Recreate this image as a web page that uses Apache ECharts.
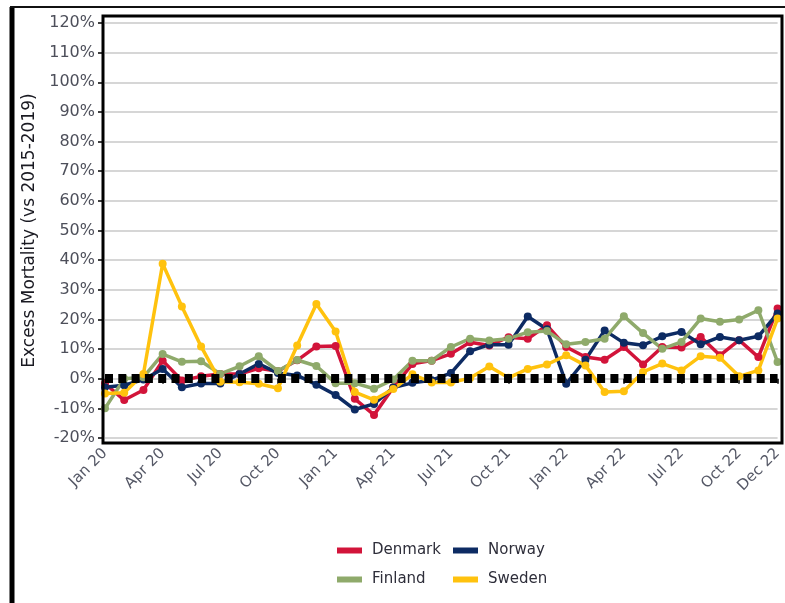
<!DOCTYPE html>
<html>
<head>
<meta charset="utf-8">
<title>Excess Mortality</title>
<script src="https://cdn.jsdelivr.net/npm/echarts@6/dist/echarts.min.js"></script>
<style>
  html, body { margin: 0; padding: 0; background: #fff; }
  #chart { width: 785px; height: 603px; }
</style>
</head>
<body>
<div id="chart"></div>
<script>
const months = [
  'Jan 20', 'Feb 20', 'Mar 20', 'Apr 20', 'May 20', 'Jun 20', 'Jul 20', 'Aug 20', 'Sep 20', 'Oct 20', 'Nov 20', 'Dec 20',
  'Jan 21', 'Feb 21', 'Mar 21', 'Apr 21', 'May 21', 'Jun 21', 'Jul 21', 'Aug 21', 'Sep 21', 'Oct 21', 'Nov 21', 'Dec 21',
  'Jan 22', 'Feb 22', 'Mar 22', 'Apr 22', 'May 22', 'Jun 22', 'Jul 22', 'Aug 22', 'Sep 22', 'Oct 22', 'Nov 22', 'Dec 22'
]

// excess mortality in %, one value per month
const denmark = [-1.6, -7.2, -3.8, 6.1, -0.6, 0.8, 1.6, 1.6, 3.5, 2.5, 6.2, 10.9,
  11.0, -6.8, -12.2, -3.0, 5.0, 6.1, 8.4, 12.3, 11.2, 14.0, 13.5, 18.0,
  10.7, 7.3, 6.4, 10.7, 4.8, 10.7, 10.5, 14.1, 7.9, 13.0, 7.3, 23.7]
const norway = [-2.9, -2.2, -0.3, 3.3, -2.9, -1.6, -1.6, 1.6, 5.0, 1.9, 1.1, -2.0,
  -5.5, -10.4, -8.5, -3.0, -1.4, -0.5, 1.9, 9.3, 11.5, 11.5, 21.0, 16.7,
  -1.7, 6.4, 16.3, 12.1, 11.3, 14.3, 15.8, 11.6, 14.1, 13.0, 14.3, 22.0]
const finland = [-10.0, 0.0, 0.5, 8.3, 5.7, 5.9, 1.6, 4.2, 7.6, 2.6, 6.3, 4.3,
  -1.5, -1.5, -3.4, -0.3, 6.1, 6.1, 10.7, 13.5, 12.9, 13.5, 15.7, 16.1,
  11.6, 12.4, 13.5, 21.1, 15.4, 10.1, 12.4, 20.3, 19.2, 20.0, 23.1, 5.6]
const sweden = [-5.0, -4.7, 1.6, 38.8, 24.4, 10.9, -1.0, -1.2, -1.7, -3.2, 11.2, 25.2,
  15.9, -4.5, -7.1, -3.5, 1.5, -1.3, -1.3, 0.2, 4.1, 0.3, 3.3, 4.8,
  7.9, 4.5, -4.5, -4.2, 2.3, 5.1, 2.8, 7.6, 7.1, 0.8, 2.8, 20.3]

const yMin = -20
const yMax = 120
const yStep = 10

const seriesList = [
  { name: 'Denmark', data: denmark, color: '#D2143A' },
  { name: 'Norway', data: norway, color: '#0D2B63' },
  { name: 'Finland', data: finland, color: '#8FAA6B' },
  { name: 'Sweden', data: sweden, color: '#FFC20E' }
]

// every third month plus the last one gets a label
const showLabel = (i) => i % 3 === 0 || i === months.length - 1

const chart = echarts.init(document.getElementById('chart'))

const series = seriesList.map(item => ({
  name: item.name,
  type: 'line',
  data: item.data,
  symbol: 'circle',
  symbolSize: 8,
  lineStyle: { width: 3.5, color: item.color },
  itemStyle: { color: item.color },
  z: 3
}))

// black dotted zero line
series[0].markLine = {
  silent: true,
  symbol: 'none',
  label: { show: false },
  lineStyle: { color: '#000', width: 9, type: [8, 5.3] },
  data: [{ yAxis: 0 }]
}

const legendBase = {
  orient: 'vertical',
  top: 538,
  itemGap: 14,
  icon: 'rect',
  itemWidth: 25,
  itemHeight: 6,
  textStyle: { fontFamily: 'DejaVu Sans', fontSize: 15, color: '#2e2e3a', padding: [0, 0, 0, 5] }
}

chart.setOption({
  animation: false,
  backgroundColor: '#fff',
  textStyle: { fontFamily: 'DejaVu Sans' },
  grid: { left: 105, right: 7, top: 23, height: 415 },
  legend: [
    Object.assign({}, legendBase, { left: 332, data: ['Denmark', 'Finland'] }),
    Object.assign({}, legendBase, { left: 448, data: ['Norway', 'Sweden'] })
  ],
  xAxis: {
    type: 'category',
    data: months,
    boundaryGap: false,
    offset: 5,
    axisLine: { show: false },
    axisTick: {
      show: true,
      interval: showLabel,
      length: 5,
      lineStyle: { color: '#000', width: 1.5 }
    },
    axisLabel: {
      interval: showLabel,
      rotate: 45,
      margin: 8,
      fontSize: 15,
      color: '#555866'
    },
    splitLine: { show: false }
  },
  yAxis: {
    type: 'value',
    min: yMin,
    max: yMax,
    interval: yStep,
    offset: 2,
    name: 'Excess Mortality (vs 2015-2019)',
    nameLocation: 'middle',
    nameGap: 62,
    nameTextStyle: { fontSize: 17, color: '#1a1a22' },
    axisLine: { show: false },
    axisTick: { show: true, length: 5, lineStyle: { color: '#000', width: 1.5 } },
    axisLabel: {
      formatter: '{value}%',
      margin: 8,
      fontSize: 16,
      color: '#4d4f5a'
    },
    splitLine: { lineStyle: { color: '#c8c8c8', width: 1.5 } }
  },
  graphic: [
    // plot frame
    {
      type: 'rect',
      shape: { x: 103, y: 16, width: 679, height: 427 },
      style: { fill: null, stroke: '#000', lineWidth: 3 },
      z: 10,
      silent: true
    },
    // outer frame
    {
      type: 'line',
      shape: { x1: 12, y1: 7, x2: 12, y2: 603 },
      style: { stroke: '#000', lineWidth: 5 },
      silent: true
    },
    {
      type: 'line',
      shape: { x1: 10, y1: 7, x2: 785, y2: 7 },
      style: { stroke: '#111', lineWidth: 2 },
      silent: true
    }
  ],
  series: series
})
</script>
</body>
</html>
